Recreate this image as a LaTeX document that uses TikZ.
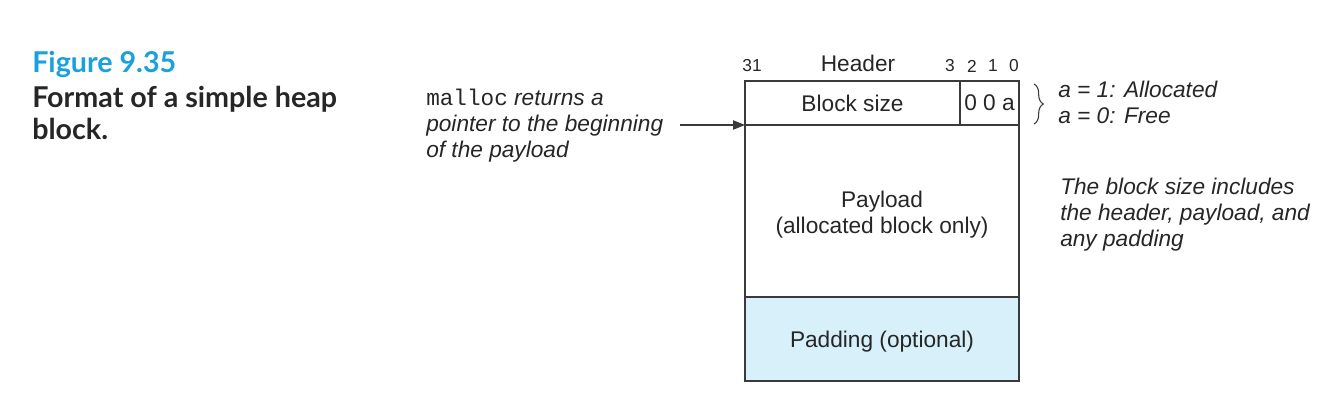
\documentclass[tikz,border=0pt]{standalone}
\usepackage{fontspec}
\setmainfont{Liberation Sans}
\setmonofont{Liberation Mono}
\newfontfamily\capfont{Lato}
\usetikzlibrary{arrows.meta,decorations.pathreplacing}
\definecolor{figblue}{HTML}{1AA0DB}
\definecolor{padblue}{HTML}{D7F0FA}
\definecolor{linegray}{HTML}{3A3A3A}
\tikzset{
  field/.style={draw=linegray,line width=0.9pt,anchor=north west,inner sep=0pt,
    outer sep=0pt,font=\fontsize{17}{20}\selectfont,text=black!85,align=center},
  bitno/.style={font=\fontsize{13}{15}\selectfont,text=black!85,inner sep=0pt},
  note/.style={font=\fontsize{17}{19.5}\selectfont\itshape,text=black!85,
    align=left,anchor=north west,inner sep=0pt},
}
\begin{document}
\begin{tikzpicture}[x=0.75pt,y=-0.75pt]
    \useasboundingbox (0,0) rectangle (1333,413);
    % caption
    \node[font=\capfont\bfseries\fontsize{21.5}{24.5}\selectfont,text=figblue,
      anchor=north west,inner sep=0pt] (fignum) at (32,51) {Figure 9.35};
    \node[font=\capfont\bfseries\fontsize{21.5}{24}\selectfont,text=black!85,
      anchor=north west,align=left,inner sep=0pt] (figtitle) at (32,86)
      {Format of a simple heap\\block.};
    % the block
    \node[field,minimum width=161.25pt,minimum height=33pt] (size) at (745,81) {Block size};
    \node[field,minimum width=44.25pt,minimum height=33pt] (flags) at (960,81) {0 0 a};
    \node[field,minimum width=205.5pt,minimum height=129pt] (payload) at (745,125)
      {\rule{0pt}{18pt}Payload\\(allocated block only)};
    \node[field,fill=padblue,minimum width=205.5pt,minimum height=63pt] (padding) at (745,297)
      {\rule{0pt}{16pt}Padding (optional)};
    % bit numbers
    \node[bitno] (b31) at (752,66) {31};
    \node[font=\fontsize{17}{20}\selectfont,text=black!85,inner sep=0pt] (hdr) at (858,63) {Header};
    \foreach \b/\x in {3/950,2/972,1/993,0/1014}
      \node[bitno] (b\b) at (\x,66) {\b};
    % pointer
    \node[note] (ret) at (426,89)
      {{\upshape\ttfamily malloc} returns a\\pointer to the beginning\\of the payload};
    \coordinate (ptr) at (680,125);
    \draw[-{Triangle[length=9pt,width=7pt]},line width=0.8pt,linegray] (ptr) -- (size.south west);
    % flag meaning
    \draw[decorate,decoration={brace,amplitude=7pt},line width=0.8pt,linegray]
      (1034,84) -- (1034,124);
    \node[note] (abit) at (1058,81) {a = 1: Allocated\\a = 0: Free};
    \node[note] (sizenote) at (1060,178)
      {The block size includes\\the header, payload, and\\any padding};
\end{tikzpicture}
\end{document}
